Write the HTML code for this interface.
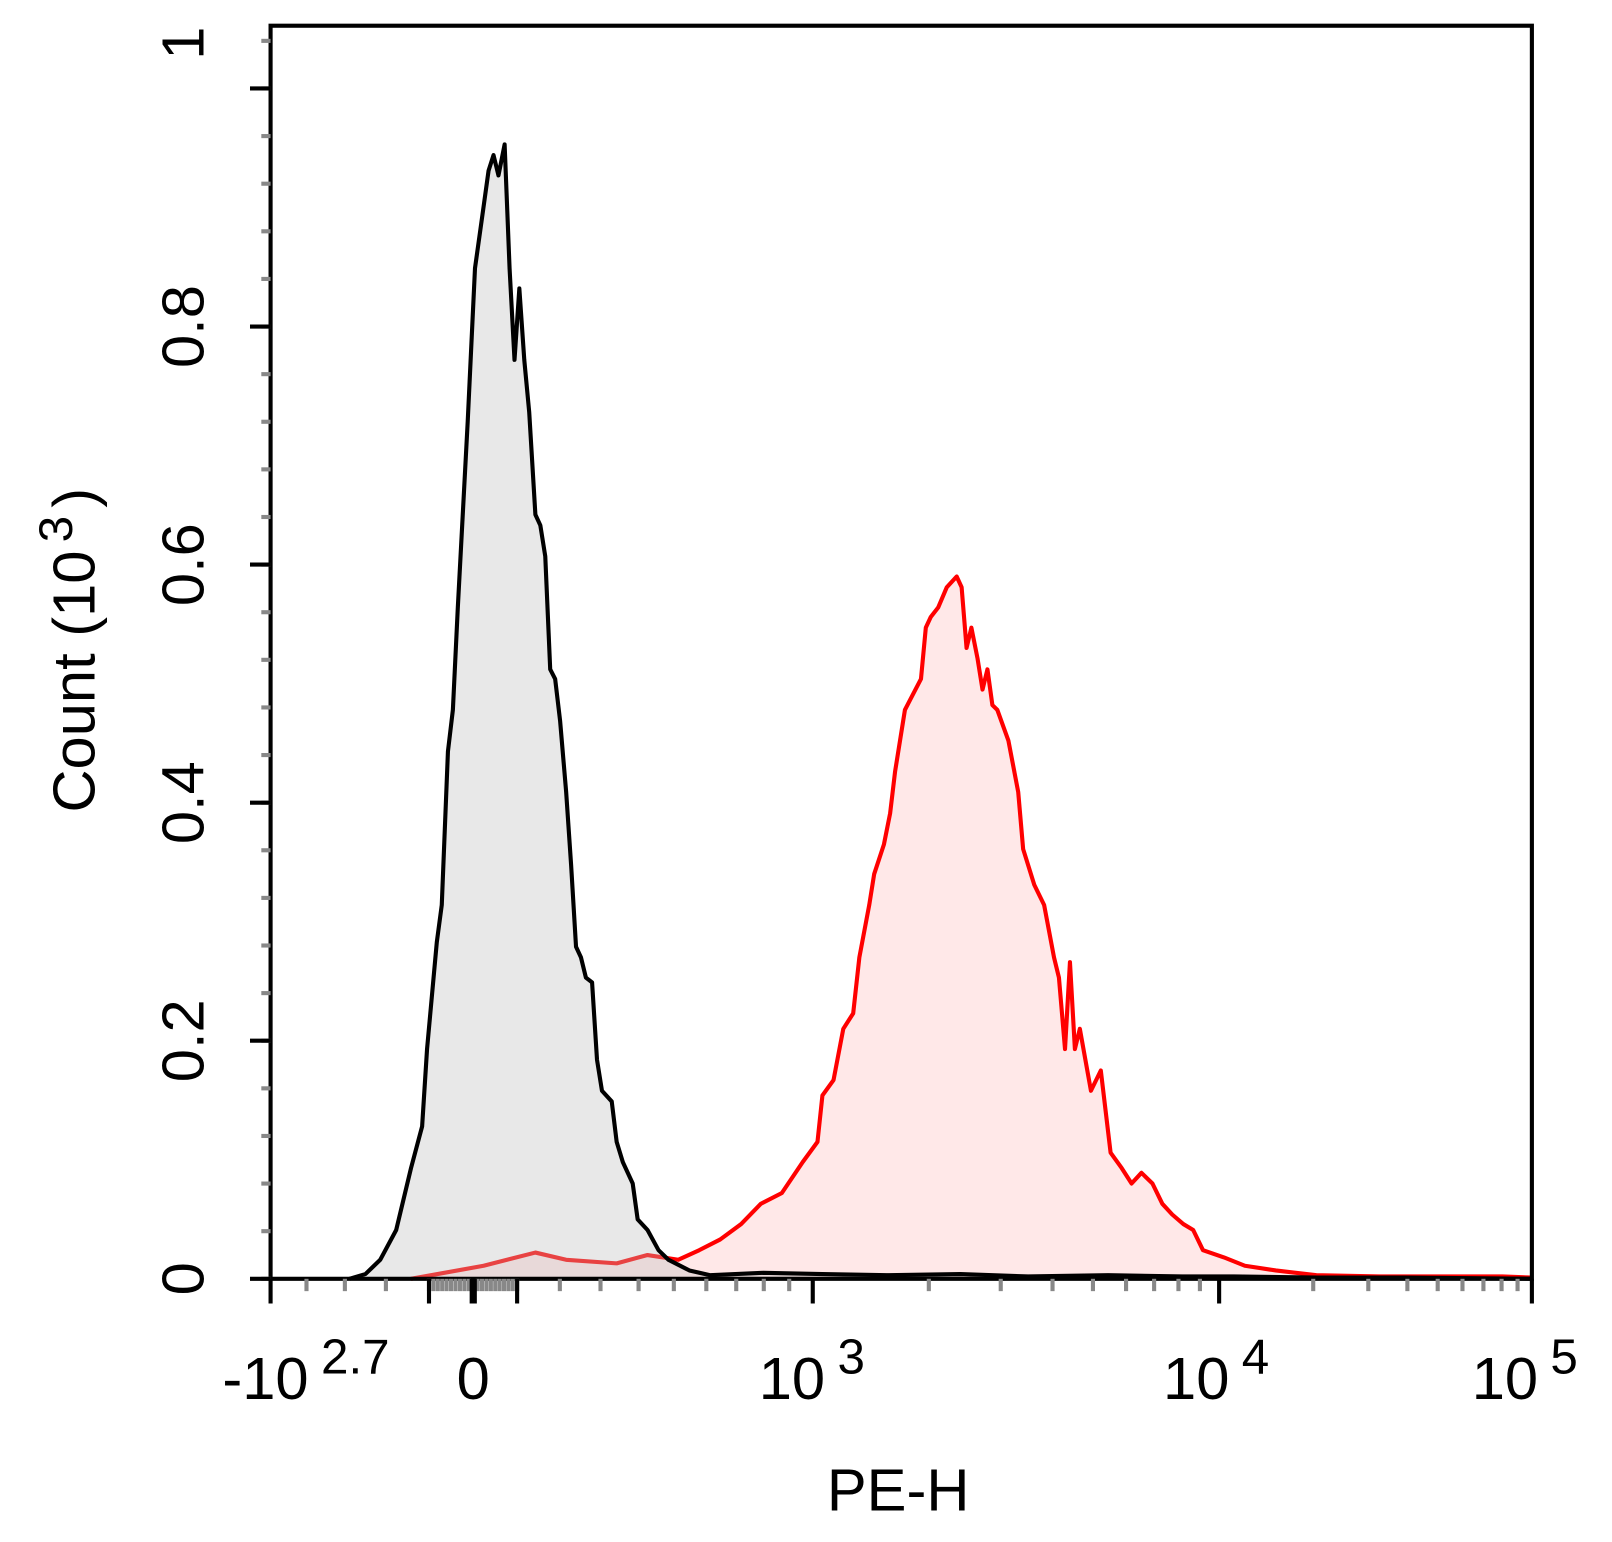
<!DOCTYPE html>
<html><head><meta charset="utf-8"><style>
html,body{margin:0;padding:0;background:#fff;}
svg{display:block;font-family:"Liberation Sans",sans-serif;}
</style></head><body>
<svg id="chart" width="1612" height="1542" viewBox="0 0 1612 1542" xmlns="http://www.w3.org/2000/svg">
<g transform="scale(1.0288)">
<g id="series"></g>
<g id="axes"></g>
<text x="873" y="1468" font-size="58" text-anchor="middle">PE-H</text>
<text transform="translate(92,632) rotate(-90)" font-size="58" text-anchor="middle">Count  (10<tspan font-size="46" dy="-22" dx="8">3</tspan><tspan dy="22" dx="8">)</tspan></text>
</g>
</svg>
<script>
// black (control) histogram: channel (0-1024) and count
const blackCh = [64,77,89,102,114,123,127,135,139,144,148,152,160,166,173,177,181,185,190,194,198,202,206,210,215,219,223,227,231,235,240,244,248,252,256,261,265,269,277,281,286,294,298,306,315,323,340,357,400,448,500,560,615,680,740,782,850,920,1024];
const blackCount = [0,4,16,41,93,128,193,283,314,443,478,564,720,849,901,931,944,927,953,849,772,832,772,728,642,633,607,512,504,469,409,348,279,270,253,249,184,158,149,115,98,80,50,41,24,16,7,3,5,4,3,4,2,3,2,2,1,1,0];
// red (stained) histogram
const redCh = [114,173,215,240,281,306,331,348,365,382,398,415,432,444,448,457,465,473,478,486,490,498,503,507,515,519,528,532,536,542,549,557,561,565,569,574,578,582,586,590,599,607,611,620,628,636,640,645,649,653,657,666,674,682,691,699,707,716,724,732,741,749,757,774,791,816,849,900,950,1000,1024];
const redCount = [0,11,22,16,13,20,16,24,33,46,63,72,98,115,154,167,210,223,270,314,340,365,391,426,478,486,504,547,556,564,581,590,581,530,547,521,495,512,482,478,452,409,361,331,314,270,253,193,266,193,210,158,175,106,93,80,89,80,63,54,46,41,24,18,11,7,3,2,2,2,1];
const yTicks = [0,0.2,0.4,0.6,0.8,1.0];
const yTickLabels = ["0","0.2","0.4","0.6","0.8","1"];
const xMajorVals = [-501,0,1000,10000,100000];
const xMajorBase = ["-10","0","10","10","10"];
const xMajorSup = ["2.7","","3","4","5"];
const xMinorVals = [-400,-300,-200,-100,-90,-80,-70,-60,-50,-40,-30,-20,-10,10,20,30,40,50,60,70,80,90,100,200,300,400,500,600,700,800,900,2000,3000,4000,5000,6000,7000,8000,9000,20000,30000,40000,50000,60000,70000,80000,90000];

const L=263,R=1489,T=25,B=1243;
const anchorPx=[263,460,790,1185,1489];
const labelEndOffset=[37,0,12,10,6];
function g(v){return Math.asinh(v/600);}
function xv(v){
  for(let i=0;i<xMajorVals.length-1;i++){
    const a=g(xMajorVals[i]),b=g(xMajorVals[i+1]),t=g(v);
    if(t<=b||i===xMajorVals.length-2) return anchorPx[i]+(t-a)/(b-a)*(anchorPx[i+1]-anchorPx[i]);
  }
}
function xc(ch){return L+ch*(R-L)/1024;}
function ys(c){return B-c/1000*(B-86);}
const NS="http://www.w3.org/2000/svg";
function mk(tag,attrs,parent){const e=document.createElementNS(NS,tag);for(const k in attrs)e.setAttribute(k,attrs[k]);parent.appendChild(e);return e;}
const S=document.getElementById('series'),A=document.getElementById('axes');

function drawHist(ch,cnt,stroke,fill,name){
  let d='';
  for(let i=0;i<ch.length;i++) d+=(i?'L':'M')+xc(ch[i]).toFixed(1)+','+ys(cnt[i]).toFixed(1);
  const area=mk('path',{d:d+'L'+xc(ch[ch.length-1])+','+B+'L'+xc(ch[0])+','+B+'Z',fill:fill,stroke:'none'},S);
  
  
  const line=mk('path',{d:d,fill:'none',stroke:stroke,'stroke-width':4,'stroke-linejoin':'round'},S);
  
  
}
drawHist(redCh,redCount,'#ff0000','rgba(255,205,205,0.45)','stained-histogram');
drawHist(blackCh,blackCount,'#000','rgba(190,190,190,0.35)','control-histogram');

const fr=mk('rect',{x:L,y:T,width:R-L,height:B-T,fill:'none',stroke:'#000','stroke-width':4},A);


for(let v=0;v<=1.05;v+=0.04){
  const y=ys(v*1000);
  const t=mk('line',{x1:L-9,x2:L,y1:y,y2:y,stroke:'#888','stroke-width':4},A);
  
  
}
yTicks.forEach((v,i)=>{
  const y=ys(v*1000);
  const t=mk('line',{x1:L-20,x2:L,y1:y,y2:y,stroke:'#000','stroke-width':4},A);
  
  
  const ly = (v===1.0)?42:y;
  const tx=mk('text',{transform:'translate(198,'+ly+') rotate(-90)','font-size':58,'text-anchor':'middle'},A);
  tx.textContent=yTickLabels[i];
  
  
});
xMinorVals.forEach(v=>{
  const x=xv(v);
  const t=mk('line',{x1:x,x2:x,y1:B,y2:B+12,stroke:'#888','stroke-width':4},A);
  
  
});
[-100,100].forEach(v=>{
  const x=xv(v);
  const t=mk('line',{x1:x,x2:x,y1:B,y2:B+24,stroke:'#000','stroke-width':4},A);
  
  
});
xMajorVals.forEach((v,i)=>{
  const x=xv(v);
  const t=mk('line',{x1:x,x2:x,y1:B,y2:B+24,stroke:'#000','stroke-width':i===1?7:4},A);
  
  
  if(xMajorSup[i]){
    const tx=mk('text',{x:x+labelEndOffset[i],y:1360,'font-size':58,'text-anchor':'end'},A);
    tx.textContent=xMajorBase[i];
    
    
    const sp=mk('text',{x:x+labelEndOffset[i]+12,y:1335,'font-size':48,'text-anchor':'start'},A);
    sp.textContent=xMajorSup[i];
    
    
  } else {
    const tx=mk('text',{x:x,y:1360,'font-size':58,'text-anchor':'middle'},A);
    tx.textContent=xMajorBase[i];
    
    
  }
});
</script>
</body></html>
